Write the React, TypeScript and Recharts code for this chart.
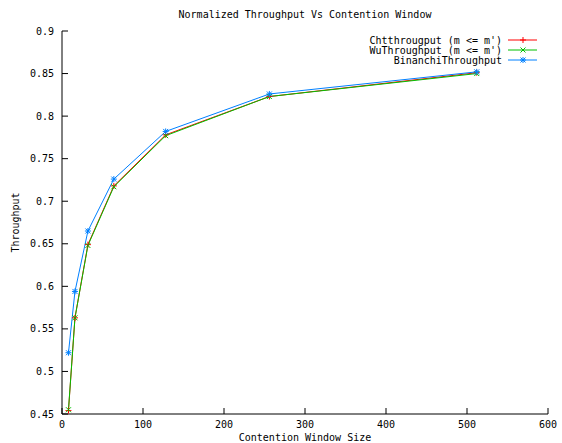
import React from "react"
import { LineChart, Line, XAxis, YAxis } from "recharts"

const cwSizes = [8, 16, 32, 64, 128, 256, 512]
const chtThroughput = [0.454, 0.563, 0.649, 0.718, 0.778, 0.823, 0.851]
const wuThroughput = [0.455, 0.563, 0.648, 0.717, 0.777, 0.823, 0.85]
const bianchiThroughput = [0.522, 0.594, 0.665, 0.726, 0.782, 0.826, 0.852]

const xTicks = [0, 100, 200, 300, 400, 500, 600]
const yTicks = [0.45, 0.5, 0.55, 0.6, 0.65, 0.7, 0.75, 0.8, 0.85, 0.9]

const FONT = "'DejaVu Sans Mono', 'Liberation Mono', monospace"

const data = cwSizes.map((cw, i) => ({
  cw,
  cht: chtThroughput[i],
  wu: wuThroughput[i],
  bianchi: bianchiThroughput[i],
}))

type Marker = "plus" | "cross" | "star"

const series: { key: string; name: string; color: string; marker: Marker }[] = [
  { key: "cht", name: "Chtthrougput (m <= m')", color: "#ff0000", marker: "plus" },
  { key: "wu", name: "WuThroughput (m <= m')", color: "#00c000", marker: "cross" },
  { key: "bianchi", name: "BinanchiThroughput", color: "#0080ff", marker: "star" },
]

function MarkerShape({ cx, cy, color, marker }: { cx: number; cy: number; color: string; marker: Marker }) {
  const s = 3
  const d = 2.5
  return (
    <g stroke={color} strokeWidth={1} fill="none">
      {marker !== "cross" && (
        <>
          <line x1={cx - s} y1={cy} x2={cx + s} y2={cy} />
          <line x1={cx} y1={cy - s} x2={cx} y2={cy + s} />
        </>
      )}
      {marker !== "plus" && (
        <>
          <line x1={cx - d} y1={cy - d} x2={cx + d} y2={cy + d} />
          <line x1={cx - d} y1={cy + d} x2={cx + d} y2={cy - d} />
        </>
      )}
    </g>
  )
}

function Legendbox() {
  return (
    <svg
      width={200}
      height={40}
      style={{ position: "absolute", left: 342, top: 30 }}
    >
      {series.map((s, i) => {
        const y = 10 + i * 10
        return (
          <g key={s.key}>
            <text
              x={160}
              y={y + 3.5}
              textAnchor="end"
              fontFamily={FONT}
              fontSize={10}
              fill="#000"
            >
              {s.name}
            </text>
            <line x1={166} y1={y} x2={195} y2={y} stroke={s.color} strokeWidth={1} />
            <MarkerShape cx={181} cy={y} color={s.color} marker={s.marker} />
          </g>
        )
      })}
    </svg>
  )
}

const axisLine = { stroke: "#000", strokeWidth: 1 }
const tickLine = { stroke: "#000" }

export default function App() {
  return (
    <div style={{ position: "absolute", left: 0, top: 0, width: 562, height: 443, background: "#fff" }}>
      <div
        style={{
          position: "absolute",
          top: 9,
          left: 62,
          width: 486,
          textAlign: "center",
          fontFamily: FONT,
          fontSize: 10,
          color: "#000",
        }}
      >
        Normalized Throughput Vs Contention Window
      </div>
      <LineChart
        width={562}
        height={443}
        data={data}
        margin={{ top: 31, right: 14, left: 0, bottom: 0 }}
      >
        <XAxis
          xAxisId="bottom"
          dataKey="cw"
          type="number"
          domain={[0, 600]}
          ticks={xTicks}
          height={29}
          axisLine={axisLine}
          tickLine={tickLine}
          tickSize={-6}
          tickMargin={13}
          tick={{ fontSize: 10, fill: "#000", fontFamily: FONT }}
          label={({ viewBox }: any) => (
            <text
              x={viewBox.x + viewBox.width / 2}
              y={441}
              textAnchor="middle"
              fontFamily={FONT}
              fontSize={10}
              fill="#000"
            >
              Contention Window Size
            </text>
          )}
        />
        <XAxis
          xAxisId="top"
          orientation="top"
          type="number"
          dataKey="cw"
          domain={[0, 600]}
          ticks={xTicks}
          height={0}
          axisLine={axisLine}
          tickLine={tickLine}
          tickSize={-6}
          tickFormatter={() => ""}
        />
        <YAxis
          yAxisId="left"
          type="number"
          domain={[0.45, 0.9]}
          ticks={yTicks}
          width={62}
          axisLine={axisLine}
          tickLine={tickLine}
          tickSize={-6}
          tickMargin={14}
          tick={{ fontSize: 10, fill: "#000", fontFamily: FONT }}
          label={({ viewBox }: any) => {
            const cx = 15
            const cy = viewBox.y + viewBox.height / 2
            return (
              <text
                x={cx}
                y={cy}
                transform={`rotate(-90 ${cx} ${cy})`}
                textAnchor="middle"
                dominantBaseline="central"
                fontFamily={FONT}
                fontSize={10}
                fill="#000"
              >
                Throughput
              </text>
            )
          }}
        />
        <YAxis
          yAxisId="right"
          orientation="right"
          type="number"
          domain={[0.45, 0.9]}
          ticks={yTicks}
          width={0}
          axisLine={axisLine}
          tickLine={tickLine}
          tickSize={-6}
          tickFormatter={() => ""}
        />
        {series.map((s) => (
          <Line
            key={s.key}
            xAxisId="bottom"
            yAxisId="left"
            type="linear"
            dataKey={s.key}
            name={s.name}
            stroke={s.color}
            strokeWidth={1}
            isAnimationActive={false}
            activeDot={false}
            dot={(p: any) => (
              <MarkerShape
                key={`${s.key}-${p.index}`}
                cx={p.cx}
                cy={p.cy}
                color={s.color}
                marker={s.marker}
              />
            )}
          />
        ))}
      </LineChart>
      <Legendbox />
    </div>
  )
}
